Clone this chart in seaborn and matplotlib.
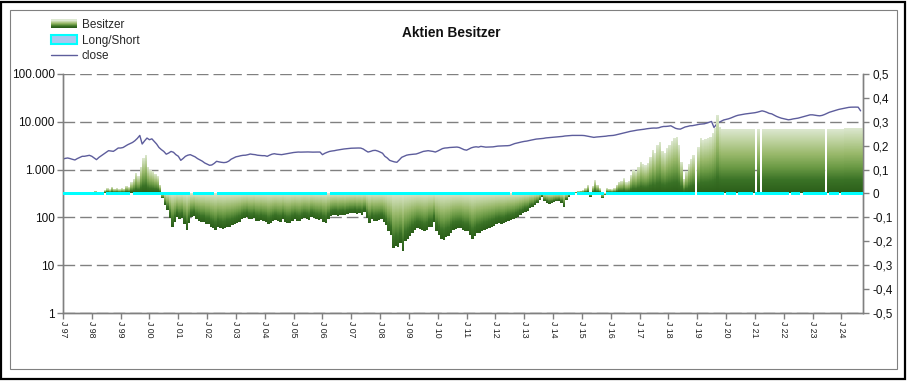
import matplotlib

matplotlib.use("Agg")

import matplotlib.dates as mdates
import matplotlib.pyplot as plt
import numpy as np
import pandas as pd
import seaborn as sns
from matplotlib.colors import LinearSegmentedColormap
from matplotlib.legend_handler import HandlerBase
from matplotlib.lines import Line2D
from matplotlib.patches import Patch, Rectangle
from matplotlib.ticker import FixedLocator, NullLocator

# monthly values, Jan 1997 .. Sep 2024
START = "1997-01-01"

besitzer = [
    0, 0, 0, 0, 0, 0, 0, 0, 0, 0, 0, 0,  # 1997
    0, 0.008, -0.006, 0, 0.004, 0.012, 0.02, 0.015, 0.026, 0.018, 0.02, 0.016,  # 1998
    0.02, 0.018, 0.03, 0.025, 0.045, 0.06, 0.085, 0.07, 0.11, 0.145, 0.16, 0.11,  # 1999
    0.096, 0.09, 0.08, 0.07, 0.035, -0.022, -0.05, -0.07, -0.105, -0.14, -0.12, -0.1,  # 2000
    -0.11, -0.105, -0.13, -0.154, -0.126, -0.1, -0.095, -0.11, -0.115, -0.12, -0.12, -0.13,  # 2001
    -0.13, -0.14, -0.145, -0.154, -0.14, -0.145, -0.15, -0.147, -0.14, -0.14, -0.135, -0.13,  # 2002
    -0.125, -0.12, -0.11, -0.105, -0.1, -0.108, -0.11, -0.105, -0.115, -0.117, -0.113, -0.118,  # 2003
    -0.12, -0.13, -0.125, -0.118, -0.113, -0.118, -0.12, -0.11, -0.12, -0.126, -0.125, -0.115,  # 2004
    -0.11, -0.115, -0.118, -0.11, -0.105, -0.108, -0.112, -0.1, -0.105, -0.11, -0.113, -0.11,  # 2005
    -0.12, -0.126, -0.11, -0.095, -0.092, -0.09, -0.095, -0.092, -0.09, -0.094, -0.088, -0.085,  # 2006
    -0.085, -0.082, -0.088, -0.085, -0.09, -0.08, -0.105, -0.126, -0.11, -0.118, -0.115, -0.113,  # 2007
    -0.11, -0.12, -0.135, -0.16, -0.175, -0.23, -0.22, -0.225, -0.21, -0.244, -0.2, -0.19,  # 2008
    -0.18, -0.165, -0.155, -0.147, -0.15, -0.155, -0.16, -0.155, -0.14, -0.14, -0.12, -0.16,  # 2009
    -0.175, -0.19, -0.195, -0.185, -0.18, -0.165, -0.154, -0.15, -0.148, -0.147, -0.155, -0.16,  # 2010
    -0.16, -0.175, -0.19, -0.18, -0.168, -0.165, -0.16, -0.154, -0.15, -0.145, -0.14, -0.138,  # 2011
    -0.13, -0.126, -0.127, -0.126, -0.12, -0.115, -0.113, -0.11, -0.103, -0.099, -0.092, -0.085,  # 2012
    -0.078, -0.075, -0.064, -0.06, -0.05, -0.043, -0.03, -0.015, -0.035, -0.04, -0.045, -0.043,  # 2013
    -0.038, -0.035, -0.033, -0.04, -0.057, -0.03, -0.015, -0.01, -0.008, 0.005, 0.008, 0.01,  # 2014
    0.012, 0.02, 0.033, -0.015, 0.03, 0.054, 0.035, 0.02, -0.022, -0.01, 0.02, 0.018,  # 2015
    0.015, 0.02, 0.035, 0.047, 0.05, 0.061, 0.045, 0.05, 0.075, 0.096, 0.09, 0.11,  # 2016
    0.13, 0.12, 0.115, 0.125, 0.15, 0.18, 0.165, 0.2, 0.214, 0.175, 0.165, 0.186,  # 2017
    0.2, 0.215, 0.228, 0.235, 0.2, 0.13, 0.06, 0.09, 0.12, 0.14, 0.158, 0,  # 2018
    0.19, 0.228, 0.22, 0.225, 0.228, 0.235, 0.25, 0.27, 0.325, 0.276, 0.267, 0.267,  # 2019
    0.267, 0.267, 0.267, 0.267, 0.267, 0.267, 0.267, 0.267, 0.267, 0.267, 0.267, 0.267,  # 2020
    0, 0.267, 0, 0.267, 0.267, 0.267, 0.267, 0.267, 0.267, 0.267, 0.267, 0.267,  # 2021
    0.267, 0.267, 0.267, 0.267, 0.267, 0.267, 0.267, 0.267, 0.267, 0.267, 0.267, 0.267,  # 2022
    0.267, 0.267, 0.267, 0.267, 0.267, 0, 0.267, 0.267, 0.267, 0.267, 0.267, 0.267,  # 2023
    0.267, 0.272, 0.272, 0.272, 0.272, 0.272, 0.272, 0.272, 0.272,  # 2024
]

close = [
    1667, 1720, 1750, 1700, 1640, 1590, 1700, 1800, 1896, 1900, 1950, 1990,  # 1997
    1900, 1750, 1615, 1800, 1950, 2120, 2300, 2488, 2450, 2410, 2600, 2827,  # 1998
    2830, 2900, 3100, 3318, 3500, 3700, 4020, 4500, 5190, 3425, 4000, 4570,  # 1999
    4217, 4400, 3900, 3425, 2900, 2610, 2400, 2100, 2222, 2400, 2300, 2054,  # 2000
    1900, 1563, 1700, 1896, 2000, 2054, 1950, 1850, 1700, 1600, 1500, 1377,  # 2001
    1300, 1231, 1250, 1350, 1492, 1450, 1420, 1400, 1422, 1500, 1650, 1750,  # 2002
    1850, 1896, 1950, 1990, 2000, 2050, 2120, 2080, 2054, 2000, 1980, 1957,  # 2003
    1957, 1896, 2000, 2100, 2150, 2100, 2080, 2054, 2100, 2150, 2200, 2250,  # 2004
    2280, 2300, 2330, 2320, 2330, 2330, 2340, 2330, 2320, 2330, 2330, 2330,  # 2005
    2054, 2200, 2300, 2400, 2450, 2488, 2550, 2600, 2650, 2700, 2735, 2780,  # 2006
    2800, 2810, 2827, 2830, 2820, 2700, 2500, 2330, 2400, 2500, 2530, 2450,  # 2007
    2330, 2200, 1900, 1750, 1563, 1500, 1450, 1422, 1600, 1808, 1900, 2000,  # 2008
    2050, 2080, 2100, 2120, 2200, 2300, 2400, 2450, 2488, 2450, 2400, 2330,  # 2009
    2450, 2600, 2750, 2827, 2850, 2900, 2920, 2950, 2963, 2900, 2750, 2610,  # 2010
    2550, 2700, 2850, 2950, 3000, 2950, 3063, 3000, 2950, 2963, 2980, 2990,  # 2011
    3050, 3100, 3120, 3130, 3150, 3160, 3200, 3350, 3500, 3600, 3700, 3800,  # 2012
    3890, 3950, 4050, 4150, 4250, 4350, 4400, 4430, 4500, 4600, 4650, 4700,  # 2013
    4750, 4800, 4850, 4900, 4950, 5050, 5100, 5150, 5190, 5200, 5190, 5190,  # 2014
    5190, 5150, 5050, 4950, 4850, 4720, 4800, 4850, 4900, 4946, 5000, 5100,  # 2015
    5150, 5190, 5300, 5450, 5600, 5750, 5900, 6100, 6290, 6400, 6550, 6700,  # 2016
    6800, 6900, 7000, 7150, 7250, 7350, 7400, 7380, 7500, 7800, 7990, 8000,  # 2017
    8100, 8250, 7800, 7300, 7100, 7030, 7400, 7800, 8000, 8250, 8300, 8500,  # 2018
    8700, 8900, 9000, 9090, 9400, 9800, 10160, 7620, 8800, 9680, 10300, 10900,  # 2019
    11200, 11550, 12000, 12600, 13200, 13700, 13990, 14300, 14600, 14800, 15000, 15160,  # 2020
    15500, 15900, 16400, 16950, 16500, 15800, 15000, 14680, 13800, 13000, 12400, 11920,  # 2021
    11600, 11300, 11010, 11200, 11500, 11700, 11920, 12300, 12700, 13100, 13500, 13990,  # 2022
    13990, 13700, 13500, 13340, 13600, 14200, 15000, 15800, 16410, 17000, 17600, 18200,  # 2023
    18650, 19200, 19600, 20000, 20220, 20300, 20300, 20220, 16950,  # 2024
]

# months without a Long/Short position
long_short_gaps = [
    "1998-06", "1999-05", "2001-06", "2002-04", "2006-03", "2012-07",
    "2014-10", "2015-10", "2018-12", "2019-12", "2020-05", "2020-12",
    "2022-03", "2022-08", "2023-07", "2023-12",
]

year_labels = [f"J {y % 100:02d}" for y in range(1997, 2025)]

GREEN_GRADIENT = ["#dde8d1", "#bcd19c", "#98b86a", "#6b9a45", "#3a7226", "#2b5e19"]
CLOSE_COLOR = "#5d5d9c"
CYAN = "#00ffff"
GRID_GRAY = "#808080"


class GradientHandler(HandlerBase):
    """Legend key drawn as a vertical green gradient, like the bars."""

    def __init__(self, cmap, steps=8):
        super().__init__()
        self.cmap = cmap
        self.steps = steps

    def create_artists(self, legend, orig_handle, xdescent, ydescent, width, height, fontsize, trans):
        artists = []
        h = height / self.steps
        for i in range(self.steps):
            frac = 1 - i / (self.steps - 1)
            artists.append(Rectangle((-xdescent, -ydescent + i * h), width, h * 1.05,
                                     facecolor=self.cmap(frac), edgecolor="none", transform=trans))
        return artists


def main() -> None:
    sns.set_theme(style="white")
    plt.rcParams["font.family"] = ["Liberation Sans", "DejaVu Sans"]

    dates = pd.date_range(START, periods=len(besitzer), freq="MS")
    df = pd.DataFrame({"date": dates, "besitzer": besitzer, "close": close})
    df["long_short"] = (~df["date"].dt.strftime("%Y-%m").isin(long_short_gaps)).astype(int)

    x_left = mdates.date2num(dates[0])
    x_right = mdates.date2num(dates[-1] + pd.offsets.MonthBegin(1))

    fig = plt.figure(figsize=(9.07, 3.81), dpi=100)
    ax = fig.add_axes([63 / 907, 1 - 313 / 381, 800 / 907, 239 / 381])

    # close on the log axis
    sns.lineplot(data=df, x="date", y="close", ax=ax, color=CLOSE_COLOR, lw=1.0, zorder=3)
    ax.set_yscale("log")
    ax.set_ylim(1, 100000)
    ax.yaxis.set_major_locator(FixedLocator([1, 10, 100, 1000, 10000, 100000]))
    ax.yaxis.set_minor_locator(NullLocator())
    ax.set_yticklabels([f"{v:,.0f}".replace(",", ".") for v in [1, 10, 100, 1000, 10000, 100000]])
    ax.yaxis.grid(True, color=GRID_GRAY, linestyle=(0, (8.4, 3.6)), lw=1.0)
    ax.set_xlim(x_left, x_right)

    # Besitzer / Long-Short on the secondary axis
    ax2 = ax.twinx()
    ax2.set_ylim(-0.5, 0.5)

    # per-bar vertical gradient (light at the top of each bar, dark at its foot)
    cmap = LinearSegmentedColormap.from_list("besitzer", GREEN_GRADIENT)
    y_lo, y_hi, ny = -0.3, 0.35, 520
    yc = y_hi - (np.arange(ny) + 0.5) * (y_hi - y_lo) / ny
    v = df["besitzer"].to_numpy()[None, :]
    Y = yc[:, None]
    top = np.maximum(v, 0)
    bot = np.minimum(v, 0)
    height = np.where(top - bot == 0, 1, top - bot)
    inside = (Y <= top) & (Y >= bot) & (v != 0)
    frac = np.clip((top - Y) / height, 0, 1)
    img = cmap(frac)
    img[~inside] = (0, 0, 0, 0)
    ax2.imshow(img, extent=(x_left, x_right, y_lo, y_hi), aspect="auto",
               interpolation="nearest", origin="upper", zorder=2)

    ls = df[df["long_short"] == 1]
    ax2.bar(ls["date"], 0.014 * ls["long_short"], bottom=-0.006, width=31, align="edge",
            color=CYAN, linewidth=0, zorder=3)
    ax2.set_xlim(x_left, x_right)

    ticks_r = np.round(np.arange(-5, 6) / 10, 1)
    ax2.yaxis.set_major_locator(FixedLocator(ticks_r))
    ax2.set_yticklabels(["0" if t == 0 else f"{t:.1f}".replace(".", ",") for t in ticks_r])
    ax2.grid(False)

    year_ticks = [mdates.date2num(pd.Timestamp(f"{y}-01-01")) for y in range(1997, 2025)]
    ax.xaxis.set_major_locator(FixedLocator(year_ticks))
    ax.xaxis.set_minor_locator(NullLocator())
    ax.set_xticklabels(year_labels, rotation=270, fontsize=6.3, color="#222222")
    ax.set_xlabel("")
    ax.set_ylabel("")

    for a in (ax, ax2):
        a.spines["top"].set_visible(False)
        for s in ("left", "right", "bottom"):
            a.spines[s].set_color(GRID_GRAY)
            a.spines[s].set_linewidth(1.0)
    ax.tick_params(axis="y", which="major", direction="out", length=4, width=1,
                   color=GRID_GRAY, labelsize=8.5, pad=2, labelcolor="#111111", left=True)
    ax.tick_params(axis="x", which="major", direction="out", length=4, width=1,
                   color=GRID_GRAY, pad=2, bottom=True)
    ax2.tick_params(axis="y", which="major", direction="out", length=4, width=1,
                    color=GRID_GRAY, labelsize=8.5, pad=3, labelcolor="#111111", right=True)

    fig.text(451 / 907, 1 - 33 / 381, "Aktien Besitzer", ha="center", va="center",
             fontsize=9.8, fontweight="bold", color="#111111")

    besitzer_key = Patch(facecolor="#6f9b4c", edgecolor="none", label="Besitzer")
    handles = [
        besitzer_key,
        Patch(facecolor="#a9c8f0", edgecolor=CYAN, lw=1.5, label="Long/Short"),
        Line2D([], [], color=CLOSE_COLOR, lw=1.0, label="close"),
    ]
    fig.legend(handles=handles, loc="upper left", bbox_to_anchor=(51 / 907, 1 - 19 / 381),
               frameon=False, fontsize=8.5, handlelength=2.2, handleheight=0.8,
               handletextpad=0.4, labelspacing=0.3, borderpad=0, borderaxespad=0,
               handler_map={besitzer_key: GradientHandler(cmap)})

    # chart frames
    fig.patches.append(Rectangle((1 / 907, 2 / 381), 904 / 907, 377 / 381, transform=fig.transFigure,
                                 fill=False, edgecolor="black", lw=1.6))
    fig.patches.append(Rectangle((10 / 907, 12 / 381), 887 / 907, 359 / 381, transform=fig.transFigure,
                                 fill=False, edgecolor=GRID_GRAY, lw=0.8))

    fig.savefig("out.png", dpi=100)
    plt.close(fig)


if __name__ == "__main__":
    main()
